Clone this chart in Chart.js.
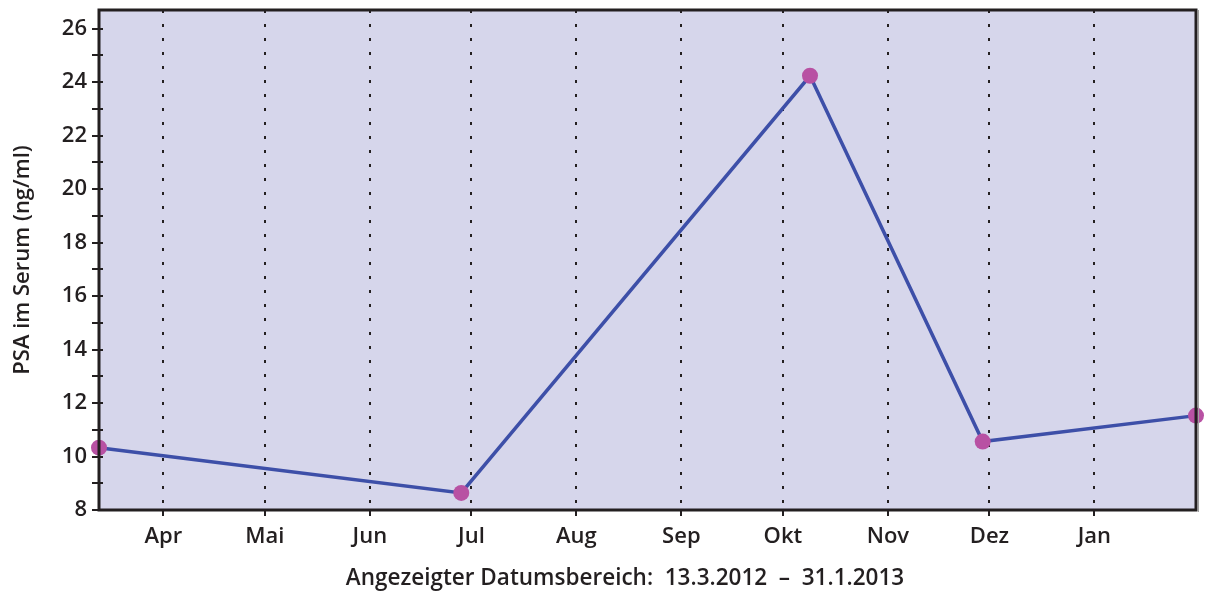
<!DOCTYPE html>
<html>
<head>
<meta charset="utf-8">
<script src="https://cdn.jsdelivr.net/npm/chart.js@4.4.1/dist/chart.umd.min.js"></script>
<style>
html,body{margin:0;padding:0;background:#fff;}
#wrap{width:1210px;height:592px;}
</style>
</head>
<body>
<div id="wrap"><canvas id="c" width="1210" height="592"></canvas></div>
<script>
// Days since 13.3.2012
const monthDays = [19, 49, 80, 110, 141, 172, 202, 233, 263, 294];
const monthLabels = ['Apr', 'Mai', 'Jun', 'Jul', 'Aug', 'Sep', 'Okt', 'Nov', 'Dez', 'Jan'];
const measureDays = [0, 107, 210, 261, 324];
const psaValues = [10.33, 8.64, 24.24, 10.56, 11.53];
const yTicks = [8, 9, 10, 11, 12, 13, 14, 15, 16, 17, 18, 19, 20, 21, 22, 23, 24, 25, 26];
const xTitle = 'Angezeigter Datumsbereich:  13.3.2012  \u2013  31.1.2013\u2003\u2003';
const yTitle = 'PSA im Serum (ng/ml)';

const FONT = '"Open Sans", "Noto Sans", sans-serif';

const frame = {
  id: 'frame',
  beforeDraw(chart) {
    const {ctx, chartArea: a} = chart;
    ctx.save();
    ctx.fillStyle = '#d6d6eb';
    ctx.fillRect(a.left, a.top, a.right - a.left, a.bottom - a.top);
    ctx.restore();
  },
  afterDraw(chart) {
    const {ctx, chartArea: a} = chart;
    ctx.save();
    ctx.strokeStyle = '#a0a0a0';
    ctx.lineWidth = 1;
    ctx.beginPath();
    ctx.moveTo(a.right + 2.5, a.top);
    ctx.lineTo(a.right + 2.5, a.bottom + 2);
    ctx.stroke();
    ctx.strokeStyle = '#231f20';
    ctx.lineWidth = 3;
    ctx.strokeRect(a.left, a.top, a.right - a.left, a.bottom - a.top);
    const y = chart.scales.y;
    ctx.lineWidth = 2;
    ctx.beginPath();
    y.ticks.forEach(t => {
      const py = Math.round(y.getPixelForValue(t.value));
      ctx.moveTo(a.left, py);
      ctx.lineTo(a.left + 4, py);
    });
    ctx.stroke();
    ctx.restore();
  }
};

new Chart(document.getElementById('c'), {
  type: 'line',
  data: {
    datasets: [{
      data: measureDays.map((d, i) => ({x: d, y: psaValues[i]})),
      borderColor: '#3d4fa8',
      borderWidth: 3.5,
      pointBackgroundColor: '#b851a3',
      pointBorderColor: '#b851a3',
      pointRadius: 8,
      pointBorderWidth: 0,
      tension: 0,
      clip: false
    }]
  },
  options: {
    responsive: false,
    animation: false,
    devicePixelRatio: 1,
    layout: {padding: {left: 0, right: 14, top: 10, bottom: 0}},
    plugins: {legend: {display: false}, tooltip: {enabled: false}},
    scales: {
      x: {
        type: 'linear',
        min: 0,
        max: 324,
        afterBuildTicks(s) { s.ticks = monthDays.map(v => ({value: v})); },
        afterFit(s) { s.height = 82; s.paddingLeft = 0; s.paddingRight = 0; },
        ticks: {
          autoSkip: false,
          maxRotation: 0,
          padding: 8,
          color: '#231f20',
          font: {family: FONT, size: 22, weight: '600'},
          callback(v) { const i = monthDays.indexOf(v); return i >= 0 ? monthLabels[i] : ''; }
        },
        grid: {
          display: true,
          drawOnChartArea: true,
          drawTicks: true,
          tickLength: 6,
          color: '#231f20',
          lineWidth: 2,
          tickBorderDash: []
        },
        border: {display: false, dash: [3, 11]},
        title: {
          display: true,
          text: xTitle,
          color: '#231f20',
          font: {family: FONT, size: 22.5, weight: '600'},
          padding: {top: 4, bottom: 0}
        }
      },
      y: {
        type: 'linear',
        min: 8,
        max: 26.7,
        afterBuildTicks(s) { s.ticks = yTicks.map(v => ({value: v})); },
        afterFit(s) { s.width = 99; s.paddingTop = 0; s.paddingBottom = 0; },
        ticks: {
          autoSkip: false,
          padding: 5,
          color: '#231f20',
          font: {family: FONT, size: 22, weight: '600'},
          callback(v) { return v % 2 === 0 ? String(v) : ''; }
        },
        grid: {
          display: true,
          drawOnChartArea: false,
          drawTicks: true,
          tickLength: 7,
          color: '#231f20',
          lineWidth: 2
        },
        border: {display: false},
        title: {
          display: true,
          text: yTitle,
          color: '#231f20',
          font: {family: FONT, size: 22, weight: '600'},
          padding: {top: 10, bottom: 4}
        }
      }
    }
  },
  plugins: [frame]
});
</script>
</body>
</html>
